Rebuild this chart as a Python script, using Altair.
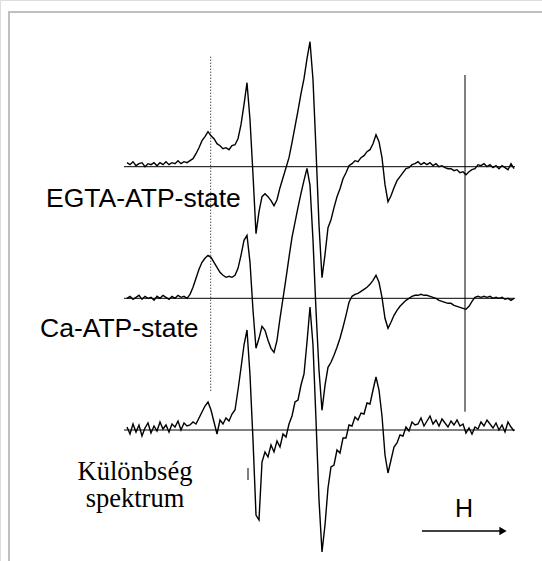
import altair as alt
import pandas as pd

# Field sampling grid (relative field units, 3 units per sample)
field = list(range(0, 390, 3))

# Signal amplitudes (same length as field)
egta = [4, 2, 5, 1, 3, 4, 0, 3, 2, 4, 1, 4, 2, 5, 2, 4, 3, 6, 3, 5, 4, 6,
        8, 13, 19, 26, 30, 35, 31, 28, 23, 21, 18, 19, 17, 21, 22, 28, 42, 62,
        84, 47, -8, -67, -45, -30, -27, -30, -34, -39, -33, -21, -11, -1, 9, 24,
        40, 56, 73, 88, 108, 125, 87, 17, -58, -111, -88, -61, -53, -41, -30, -22,
        -12, -6, 1, 3, 6, 5, 9, 11, 15, 17, 23, 32, 25, 9, -18, -35, -29, -21,
        -14, -10, -6, -2, -1, 2, 3, 5, 2, 4, 2, 4, 1, 3, 0, 1, -1, -2, -2, -4,
        -3, -6, -5, -8, -5, -3, -2, 2, 1, 3, 0, 2, -1, 1, -2, 1, -1, -3, 3, -2]

ca = [0, 2, -1, 1, 3, -1, 2, 0, 1, -2, 2, 0, 3, 1, -1, 2, 0, 3, 1, 2, 0, 4,
      11, 20, 29, 36, 40, 43, 41, 36, 31, 26, 23, 21, 22, 21, 23, 30, 43, 58,
      63, 36, -12, -50, -40, -28, -32, -42, -50, -54, -42, -20, 0, 20, 41, 61,
      76, 91, 105, 118, 130, 113, 58, -12, -72, -112, -87, -69, -64, -57, -49, -40,
      -29, -17, -4, 2, 4, 5, 7, 9, 11, 14, 18, 23, 16, 1, -20, -30, -24, -17,
      -12, -8, -5, -2, 0, 2, 3, 3, 4, 3, 3, 2, 1, 0, -2, -3, -4, -5, -5, -7,
      -8, -9, -10, -11, -8, -3, 1, 2, 1, 2, 1, 2, 0, 1, 0, 1, -1, 0, -2, 0]

diff = [3, -4, 6, -2, 5, -6, 2, 7, -3, 4, -1, 8, 1, 5, -2, 6, 3, 9, 0, 7, 4, 5,
        8, 6, 12, 18, 24, 28, 20, 8, -4, 10, 6, 12, 9, 16, 20, 40, 62, 85,
        100, 55, -10, -85, -90, -32, -22, -27, -15, -22, -11, -17, -4, -7, 6, 14,
        28, 30, 45, 56, 88, 123, 85, 10, -70, -122, -95, -58, -37, -35, -20, -23,
        -8, -8, 5, 4, 13, 10, 17, 16, 27, 26, 40, 53, 40, 14, -25, -43, -30, -17,
        -13, -5, -6, 3, -1, 8, 5, 6, 12, 4, 9, 14, 6, 10, 4, 11, 7, 3, 9, 5,
        10, 4, 6, -3, 2, -4, 3, 1, 8, 4, 10, 6, 2, 7, 0, 5, -2, 8, 3, -1]

assert len(egta) == len(ca) == len(diff) == len(field)

series_names = ["EGTA-ATP-state", "Ca-ATP-state", "Különbség spektrum"]
series_values = [egta, ca, diff]
series_offsets = [263.3, 131.7, 0.0]

rows = []
for name, vals, off in zip(series_names, series_values, series_offsets):
    for f, v in zip(field, vals):
        rows.append({"series": name, "field": f, "signal": v + off})
traces_df = pd.DataFrame(rows)

base_df = pd.DataFrame({"x": [-3] * 3, "x2": [388] * 3, "y": series_offsets})

XS = alt.Scale(domain=[-127, 415], range=[0, 542])
YS = alt.Scale(domain=[-131, 430], range=[561, 0])

def X(f="x"):
    return alt.X(f, type="quantitative", scale=XS, axis=None)

def Y(f="y"):
    return alt.Y(f, type="quantitative", scale=YS, axis=None)

traces = alt.Chart(traces_df).mark_line(color="black", strokeWidth=1.4).encode(
    x=alt.X("field:Q", scale=XS, axis=None),
    y=alt.Y("signal:Q", scale=YS, axis=None),
    detail="series:N",
    order="field:Q",
)

baselines = alt.Chart(base_df).mark_rule(color="black", strokeWidth=1).encode(
    x=X("x"), x2="x2", y=Y("y")
)

dotted_df = pd.DataFrame({"x": [83.7], "y": [373.3], "y2": [38.3]})
dotted = alt.Chart(dotted_df).mark_rule(color="black", strokeWidth=1, strokeDash=[1, 2]).encode(
    x=X("x"), y=Y("y"), y2="y2"
)

solid_df = pd.DataFrame({"x": [338, 121], "y": [355, -38], "y2": [18.3, -50]})
solid = alt.Chart(solid_df).mark_rule(color="black", strokeWidth=1).encode(
    x=X("x"), y=Y("y"), y2="y2"
)

frame_top = alt.Chart(pd.DataFrame({"a": [0]})).mark_rule(color="#c0c0c0", strokeWidth=2).encode(
    x=alt.value(8), x2=alt.value(542), y=alt.value(12)
)
frame_left = alt.Chart(pd.DataFrame({"a": [0]})).mark_rule(color="#c0c0c0", strokeWidth=2).encode(
    x=alt.value(9), y=alt.value(11), y2=alt.value(561)
)

sans_df = pd.DataFrame({"x": [-81, -87], "y": [223, 93], "t": ["EGTA-ATP-state", "Ca-ATP-state"]})
sans_labels = alt.Chart(sans_df).mark_text(
    font="Liberation Sans", fontSize=26.5, align="left", baseline="alphabetic", color="black"
).encode(x=X("x"), y=Y("y"), text="t:N")

serif_df = pd.DataFrame({"x": [8, 8], "y": [-50, -77], "t": ["Különbség", "spektrum"]})
serif_labels = alt.Chart(serif_df).mark_text(
    font="Liberation Serif", fontSize=26.5, align="center", baseline="alphabetic", color="black"
).encode(x=X("x"), y=Y("y"), text="t:N")

h_df = pd.DataFrame({"x": [337], "y": [-87], "t": ["H"]})
h_label = alt.Chart(h_df).mark_text(
    font="Liberation Sans", fontSize=25, align="center", baseline="alphabetic", color="black"
).encode(x=X("x"), y=Y("y"), text="t:N")

arrow_df = pd.DataFrame({"x": [295], "x2": [375], "y": [-101]})
arrow_line = alt.Chart(arrow_df).mark_rule(color="black", strokeWidth=1.5).encode(
    x=X("x"), x2="x2", y=Y("y")
)
head_df = pd.DataFrame({"x": [376], "y": [-101]})
arrow_head = alt.Chart(head_df).mark_point(
    shape="triangle-right", filled=True, color="black", size=70, opacity=1
).encode(x=X("x"), y=Y("y"))

chart = alt.layer(
    frame_top, frame_left, baselines, dotted, solid, traces,
    sans_labels, serif_labels, h_label, arrow_line, arrow_head
).properties(width=542, height=561, padding=0, autosize=alt.AutoSizeParams(type="none")
).configure_view(stroke=None).configure(background="white")

chart.save("out.html", embed_options={"renderer": "svg", "actions": False})
